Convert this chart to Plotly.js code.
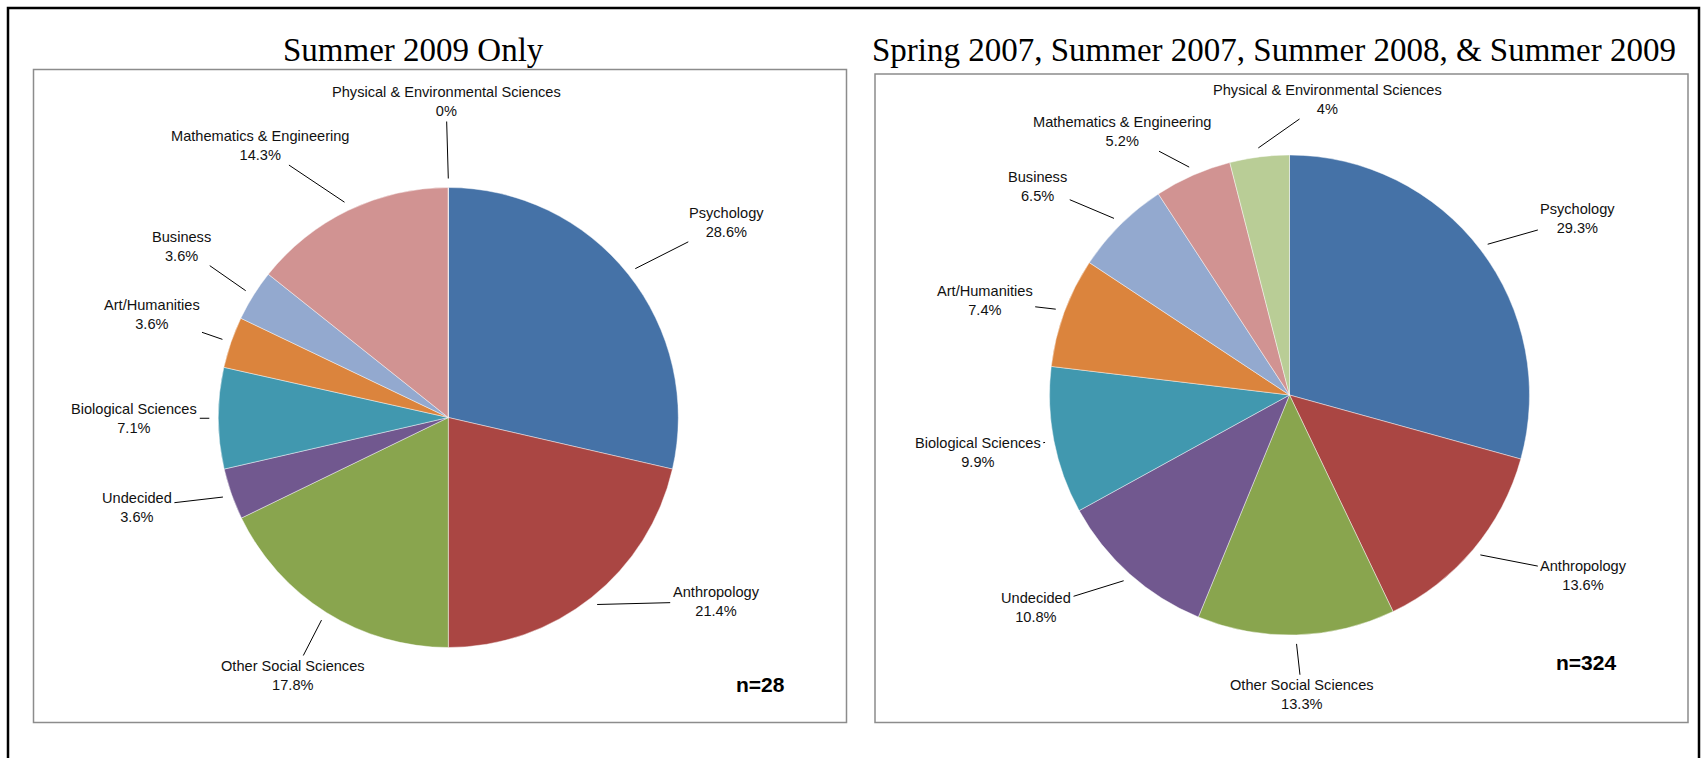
<!DOCTYPE html>
<html>
<head>
<meta charset="utf-8">
<script src="https://cdn.plot.ly/plotly-3.0.1.min.js"></script>
<style>
html,body{margin:0;padding:0;background:#fff;}
#chart{width:1702px;height:758px;}
</style>
</head>
<body>
<div id="chart"></div>
<script>
// ---------------- DATA ----------------
const categories = ["Psychology", "Anthropology", "Other Social Sciences", "Undecided",
  "Biological Sciences", "Art/Humanities", "Business", "Mathematics & Engineering",
  "Physical & Environmental Sciences"];
const summer2009Pct = [28.6, 21.4, 17.8, 3.6, 7.1, 3.6, 3.6, 14.3, 0];
const allTermsPct = [29.3, 13.6, 13.3, 10.8, 9.9, 7.4, 6.5, 5.2, 4];
const titleLeft = "Summer 2009 Only";
const titleRight = "Spring 2007, Summer 2007, Summer 2008, & Summer 2009";
const nLeft = "n=28";
const nRight = "n=324";

// ---------------- STYLE / LAYOUT ----------------
const sliceColors = ["#4572A7", "#AA4643", "#89A54E", "#71588F", "#4198AF",
  "#DB843D", "#93A9CF", "#D19392", "#B9CD96"];
const W = 1702, H = 758;
// pie placement (pixels): centre and radius
const pieL = {cx: 448.3, cy: 417.5, r: 230};
const pieR = {cx: 1289.5, cy: 395, r: 240};
// label placement tweaks: [angle shift (deg) from slice middle, distance of label centre from pie centre (px)]
const labelTweakL = [[3.5,340],[-17,325],[-1,301],[3.4,324],[0,314],[0,314],[0.7,317],[-9,331],[-0.4,316]];
const labelTweakR = [[5.8,338],[-8.5,345],[-0.8,300],[8.2,331],[0.6,317],[-3,319],[-5.5,327],[-8.7,312],[14.5,298]];

const px = x => x / W;
const py = y => 1 - y / H;

function pieTrace(values, p) {
  return {
    type: 'pie',
    labels: categories,
    values: values,
    sort: false,
    direction: 'clockwise',
    rotation: 0,
    textinfo: 'none',
    hoverinfo: 'label+percent',
    showlegend: false,
    marker: {colors: sliceColors, line: {color: 'rgba(255,255,255,0.55)', width: 0.8}},
    domain: {x: [px(p.cx - p.r), px(p.cx + p.r)], y: [py(p.cy + p.r), py(p.cy - p.r)]}
  };
}

function labelAnnotations(values, p, tweak) {
  const total = values.reduce((a, b) => a + b, 0);
  let cum = 0;
  const out = [];
  values.forEach((v, i) => {
    const mid = (cum + v / 2) / total * 360;
    cum += v;
    const a = mid * Math.PI / 180;
    const tipX = p.cx + (p.r + 9) * Math.sin(a);
    const tipY = p.cy - (p.r + 9) * Math.cos(a);
    const la = (mid + tweak[i][0]) * Math.PI / 180;
    const tx = p.cx + tweak[i][1] * Math.sin(la);
    const ty = p.cy - tweak[i][1] * Math.cos(la);
    out.push({
      xref: 'paper', yref: 'paper',
      x: px(tipX), y: py(tipY),
      ax: tx - tipX, ay: ty - tipY,
      text: categories[i] + '<br>' + v + '%',
      showarrow: true, arrowhead: 0, arrowwidth: 1, arrowcolor: '#000',
      standoff: 0, startstandoff: 1,
      font: {family: 'Liberation Sans, Arial, sans-serif', size: 14.6, color: '#111'},
      align: 'center', borderpad: 1
    });
  });
  return out;
}

const annotations = [
  {xref: 'paper', yref: 'paper', x: px(413), y: py(50), text: titleLeft, showarrow: false,
   xanchor: 'center', yanchor: 'middle',
   font: {family: 'Liberation Serif, Times New Roman, serif', size: 33, color: '#000'}},
  {xref: 'paper', yref: 'paper', x: px(1274), y: py(50), text: titleRight, showarrow: false,
   xanchor: 'center', yanchor: 'middle',
   font: {family: 'Liberation Serif, Times New Roman, serif', size: 33, color: '#000'}},
  {xref: 'paper', yref: 'paper', x: px(760.5), y: py(684), text: '<b>' + nLeft + '</b>', showarrow: false,
   xanchor: 'center', yanchor: 'middle',
   font: {family: 'Liberation Sans, Arial, sans-serif', size: 21, color: '#000'}},
  {xref: 'paper', yref: 'paper', x: px(1586), y: py(662), text: '<b>' + nRight + '</b>', showarrow: false,
   xanchor: 'center', yanchor: 'middle',
   font: {family: 'Liberation Sans, Arial, sans-serif', size: 21, color: '#000'}}
].concat(labelAnnotations(summer2009Pct, pieL, labelTweakL))
 .concat(labelAnnotations(allTermsPct, pieR, labelTweakR));

const shapes = [
  // outer frame
  {type: 'rect', xref: 'paper', yref: 'paper', x0: px(8), x1: px(1699), y0: py(800), y1: py(8),
   line: {color: '#000', width: 2.5}, layer: 'below'},
  // left chart box
  {type: 'rect', xref: 'paper', yref: 'paper', x0: px(33.5), x1: px(846.5), y0: py(722.5), y1: py(69.5),
   line: {color: '#8c8c8c', width: 1.5}, layer: 'below'},
  // right chart box
  {type: 'rect', xref: 'paper', yref: 'paper', x0: px(875), x1: px(1688), y0: py(722.5), y1: py(74),
   line: {color: '#8c8c8c', width: 1.5}, layer: 'below'}
];

const layout = {
  width: W, height: H,
  margin: {l: 0, r: 0, t: 0, b: 0, pad: 0},
  paper_bgcolor: '#fff', plot_bgcolor: '#fff',
  showlegend: false,
  annotations: annotations,
  shapes: shapes
};

Plotly.newPlot('chart', [pieTrace(summer2009Pct, pieL), pieTrace(allTermsPct, pieR)], layout,
  {displayModeBar: false, staticPlot: true});
</script>
</body>
</html>
